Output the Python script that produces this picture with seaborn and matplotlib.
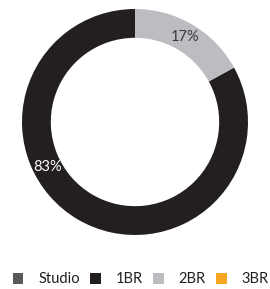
import numpy as np
import matplotlib
matplotlib.use("Agg")
import matplotlib.pyplot as plt
import seaborn as sns
from matplotlib.patches import Patch

# -------------------------------------------------
# DATA
# -------------------------------------------------
units = ["Studio", "1BR", "2BR", "3BR"]
shares = [0, 83, 17, 0]
colors = ["#58595b", "#231f20", "#bcbdc0", "#f6a623"]

sns.set_theme(style="white")
plt.rcParams["font.family"] = ["Lato", "DejaVu Sans"]

fig = plt.figure(figsize=(2.70, 2.89), dpi=100)
ax = fig.add_axes([0.0815, 0.1869, 0.837, 0.782])

wedges, _ = ax.pie(shares, colors=colors, startangle=90, counterclock=True,
                   radius=1.0, wedgeprops=dict(width=0.255, edgecolor="none"))
ax.set_xlim(-1, 1)
ax.set_ylim(-1, 1)
ax.set_aspect("equal")
ax.axis("off")

# -------------------------------------------------
# PERCENT LABELS
# -------------------------------------------------
label_r = 0.87
for w, v in zip(wedges, shares):
    if v == 0:
        continue
    if v > 50:
        ang = 207  # big slice label sits lower-left
        col = "white"
    else:
        ang = (w.theta1 + w.theta2) / 2
        col = "#3a3a3c"
    x = label_r * np.cos(np.deg2rad(ang))
    y = label_r * np.sin(np.deg2rad(ang))
    ax.text(x, y, f"{v}%", ha="center", va="center", color=col, fontsize=10.5)

# -------------------------------------------------
# LEGEND
# -------------------------------------------------
handles = [Patch(facecolor=c, edgecolor="none") for c in colors]
fig.legend(handles, units, loc="center", bbox_to_anchor=(0.52, 0.033), ncol=4,
           frameon=False, fontsize=10.5, handlelength=0.75, handleheight=0.75,
           handletextpad=1.0, columnspacing=0.7, borderpad=0, borderaxespad=0,
           labelcolor="#231f20")

fig.savefig("out.png", dpi=100)
plt.close()
